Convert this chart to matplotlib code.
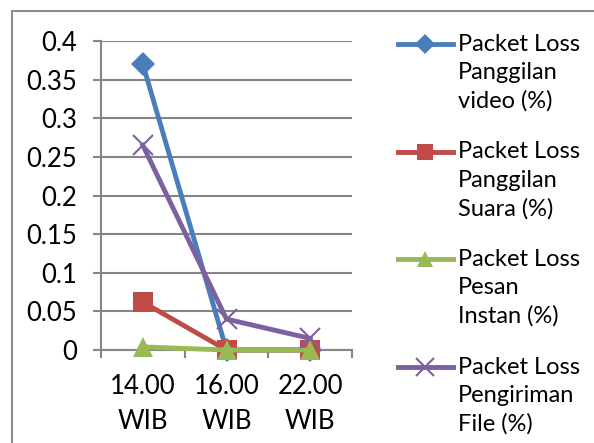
import matplotlib
matplotlib.use("Agg")
import matplotlib.pyplot as plt
from matplotlib.lines import Line2D
from matplotlib.patches import Rectangle

plt.rcParams['font.family'] = ['Lato', 'DejaVu Sans']

# packet loss per measurement time
times = ['14.00\nWIB', '16.00\nWIB', '22.00\nWIB']
video = [0.37, 0.0, 0.0]
suara = [0.062, 0.0, 0.0]
instan = [0.004, 0.0, 0.0]
file_tx = [0.265, 0.04, 0.015]

labels = ['Packet Loss\nPanggilan\nvideo (%)',
          'Packet Loss\nPanggilan\nSuara (%)',
          'Packet Loss\nPesan\nInstan (%)',
          'Packet Loss\nPengiriman\nFile (%)']
colors = ['#4A7EBB', '#BE4B48', '#98B954', '#7D60A0']
markers = ['D', 's', '^', 'x']
plot_ms = [12, 14, 15, 15]
legend_ms = [10, 11, 12, 13]
series = [video, suara, instan, file_tx]

W, H = 594, 443
fig = plt.figure(figsize=(W / 100, H / 100), dpi=100)
fig.patches.append(Rectangle((12 / W, -0.1), 1.2, 1 - 11 / H + 0.1,
                             transform=fig.transFigure, fill=False,
                             edgecolor='#8c8c8c', linewidth=1.5))

ax = fig.add_axes([101 / W, 1 - 350 / H, 251 / W, 309 / H])
xs = [0.5, 1.5, 2.5]
for vals, c, m, ms in zip(series, colors, markers, plot_ms):
    ax.plot(xs, vals, color=c, linewidth=3.5, marker=m, markersize=ms,
            markeredgewidth=1.5 if m == 'x' else 0, markeredgecolor=c,
            clip_on=False, zorder=3)

ax.set_xlim(0, 3)
ax.set_ylim(0, 0.4)
ax.set_yticks([0, 0.05, 0.1, 0.15, 0.2, 0.25, 0.3, 0.35, 0.4])
ax.set_yticklabels(['0', '0.05', '0.1', '0.15', '0.2', '0.25', '0.3', '0.35', '0.4'])
ax.set_xticks([0, 1, 2, 3])
ax.set_xticklabels([])
ax.set_xticks(xs, minor=True)
ax.set_xticklabels(times, minor=True)
for t in ax.get_xticklabels(minor=True):
    t.set_linespacing(1.5)
ax.tick_params(axis='x', which='minor', length=0, pad=17, labelsize=18.5)
ax.tick_params(axis='x', which='major', length=6, width=1.5, color='#868686', direction='out')
ax.tick_params(axis='y', length=6, width=1.5, color='#868686', pad=11.5, labelsize=18.5)
ax.grid(axis='y', color='#868686', linewidth=1.5)
ax.set_axisbelow(True)
for s in ['top', 'right']:
    ax.spines[s].set_visible(False)
for s in ['left', 'bottom']:
    ax.spines[s].set_color('#868686')
    ax.spines[s].set_linewidth(1.5)

# legend drawn by hand so each handle sits on the first line of its label
x0, x1, xt = 398 / W, 453 / W, 458 / W
for i, (lab, c, m, ms) in enumerate(zip(labels, colors, markers, legend_ms)):
    yf = 1 - (44 + 107.5 * i) / H
    fig.add_artist(Line2D([x0, x1], [yf, yf], color=c, linewidth=3.5,
                          transform=fig.transFigure))
    fig.add_artist(Line2D([(x0 + x1) / 2], [yf], color=c, marker=m,
                          markersize=ms, markeredgewidth=1.5 if m == 'x' else 0,
                          markeredgecolor=c, transform=fig.transFigure))
    fig.text(xt, yf + 10 / H, lab, fontsize=17, va='top', ha='left',
             linespacing=1.42)

fig.savefig('out.png', dpi=100)
